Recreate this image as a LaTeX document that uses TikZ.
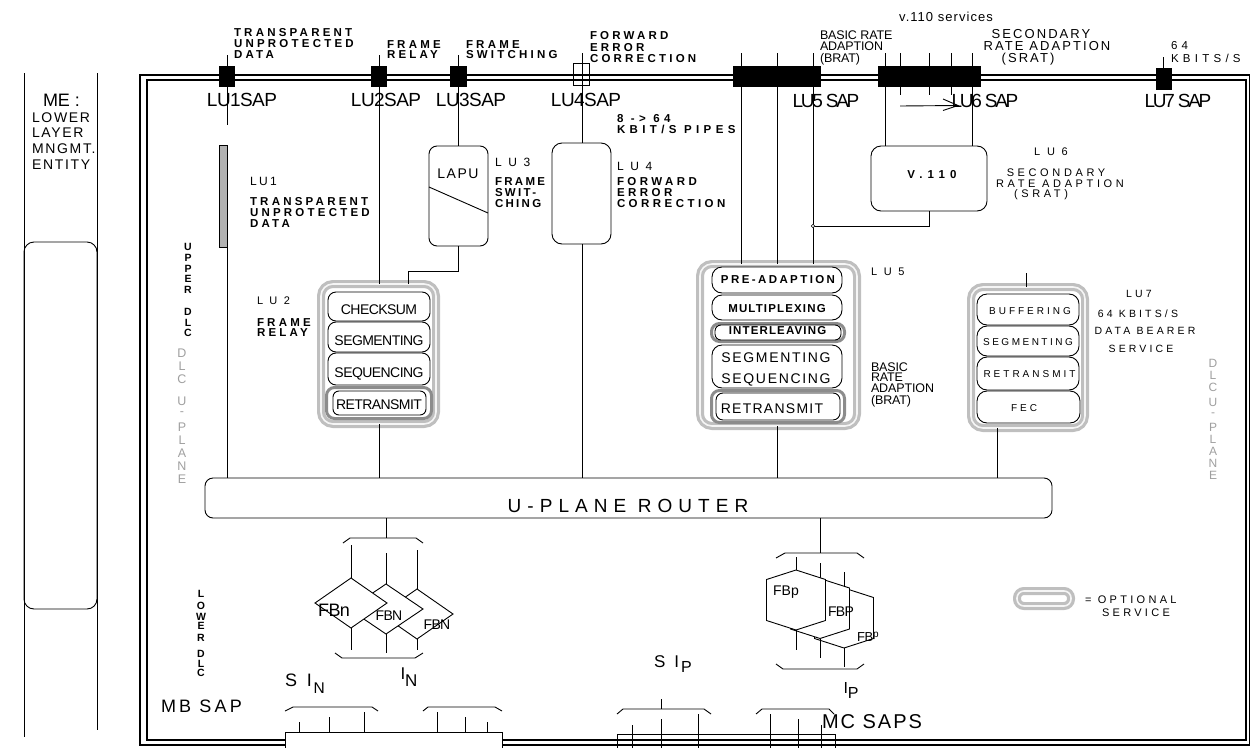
\documentclass[tikz,border=0pt]{standalone}
\usepackage{fontspec}
\setmainfont{Liberation Sans}
\usetikzlibrary{calc}
\newcommand\fsz[2]{\fontsize{#1}{#1}\selectfont\addfontfeature{LetterSpace=#2}}
\newcommand\fszb[2]{\fontsize{#1}{#1}\selectfont\bfseries\addfontfeature{LetterSpace=#2}}
\begin{document}
\begin{tikzpicture}[x=1pt,y=-1pt,
  every node/.append style={inner sep=0pt,outer sep=0pt},
  ln/.style={line width=0.9pt},
  frm/.style={line width=1.1pt},
  box/.style={draw,line width=0.9pt,fill=white,rounded corners=8pt},
  opt/.style={draw=gray!50,double=gray!8,double distance=1.6pt,line width=3.2pt,rounded corners=12pt},
  dopt/.style={draw=gray!90,line width=3pt,fill=white,rounded corners=8pt},
  sapsq/.style={fill=black},
  lbl/.style={anchor=base west},
  clbl/.style={anchor=base},
  fb/.style={font=\fszb{11.5}{28}},
  fr/.style={font=\fsz{11}{33}},
  fsap/.style={font=\fsz{19}{-3}},
  fsapc/.style={font=\fsz{19}{-12}},
  fbx/.style={font=\fsz{14}{-4}},
  fbr/.style={font=\fsz{12.5}{-1}},
  fseven/.style={font=\fsz{10}{30}},
  gl/.style={font=\fsz{12}{0},text=gray!75},
  blt/.style={font=\fszb{10.5}{0}}
]
\useasboundingbox (0,0) rectangle (1250,747);

% ---------- frame ----------
\draw[frm] (140,75) rectangle (1249.5,745);
\draw[frm] (147,80) rectangle (1246,740);

% ---------- ME ----------
\draw[ln] (24,73) -- (24,737);
\draw[ln] (97,73) -- (97,730);
\node[box,fill=none,rounded corners=10pt,minimum width=73,minimum height=367] (meb) at (60.5,425.5) {};

% ---------- boxes ----------
\node[draw,fill=gray!60,line width=0.6pt,minimum width=8,minimum height=102] (bar1) at (223,196) {};
\node[box,minimum width=59,minimum height=100] (lu3) at (458.5,196) {};
\node[box,rounded corners=10pt,minimum width=59,minimum height=101] (lu4) at (581.5,193.5) {};
\node[box,rounded corners=10pt,minimum width=116,minimum height=65] (v110) at (929,178.5) {};

\node[opt,minimum width=115,minimum height=140] (lu2) at (378.5,354) {};
\node[box,minimum width=102,minimum height=29] (chk) at (379,306.5) {};
\node[box,minimum width=102,minimum height=30] (seg2) at (379,337) {};
\node[box,minimum width=102,minimum height=32] (seq2) at (379,369) {};
\node[dopt,minimum width=105,minimum height=31] (ret2o) at (379,403) {};
\node[box,rounded corners=6pt,minimum width=93,minimum height=24] (ret2) at (379.5,403) {};

\node[opt,minimum width=157,minimum height=162] (lu5) at (778.5,345) {};
\node[box,rounded corners=10pt,minimum width=130,minimum height=26] (pre) at (777,280) {};
\node[box,rounded corners=10pt,minimum width=130,minimum height=25] (mux) at (777,307.5) {};
\node[dopt,minimum width=133,minimum height=18] (into) at (778,332.5) {};
\node[box,rounded corners=6pt,minimum width=126,minimum height=15] (intl) at (778,332.5) {};
\node[box,rounded corners=10pt,minimum width=130,minimum height=43] (segseq) at (777,366.5) {};
\node[dopt,minimum width=133,minimum height=32] (ret5o) at (778,406.5) {};
\node[box,rounded corners=7pt,minimum width=124,minimum height=27] (ret5) at (778,406.5) {};

\node[opt,minimum width=114,minimum height=141] (lu7) at (1028,357.5) {};
\node[box,rounded corners=10pt,minimum width=102,minimum height=31] (buf) at (1028,309.5) {};
\node[box,rounded corners=10pt,minimum width=102,minimum height=30] (seg7) at (1028,341) {};
\node[box,rounded corners=10pt,minimum width=102,minimum height=33] (ret7) at (1028,373.5) {};
\node[box,rounded corners=10pt,minimum width=103,minimum height=32] (fec) at (1028.5,407) {};

\node[box,minimum width=847,minimum height=40] (router) at (628.5,498) {};
\node[opt,rounded corners=7pt,minimum width=54,minimum height=15] (legend) at (1044,598.5) {};

% ---------- vertical connectors ----------
\coordinate (c1) at (227,55);
\coordinate (c2) at (379,55);
\coordinate (c3) at (458,55);
\coordinate (c4) at (582,53);
\coordinate (c5a) at (741,53);
\coordinate (c5b) at (777,53);
\coordinate (c5c) at (813,53);
\coordinate (c6a) at (885,53);
\coordinate (c6b) at (900,53);
\coordinate (c6c) at (929,53);
\coordinate (c6d) at (951,53);
\coordinate (c6e) at (972,53);
\coordinate (c7) at (1163,57);

\draw[ln] (c1) -- ++(0,70);
\draw[ln] (bar1.south east) -- (bar1.south east |- router.north);
\draw[ln] (c2) -- (c2 |- lu2.north);
\draw[ln] (c2 |- lu2.south) -- (c2 |- router.north);
\draw[ln] (c3) -- (c3 |- lu3.north);
\coordinate (j3) at (408,271);
\draw[ln] (lu3.south) |- (j3) -- (j3 |- lu2.north);
\draw[ln] ($(lu3.north west)+(0,41)$) -- ($(lu3.north east)+(0,67)$);
\draw[ln] (c4) -- (c4 |- lu4.north);
\draw[ln] (c4 |- lu4.south) -- (c4 |- router.north);
\draw[ln] (c5a) -- (c5a |- lu5.north);
\draw[ln] (c5b) -- (c5b |- lu5.north);
\draw[ln] (c5c) -- (c5c |- lu5.north);
\draw[ln] (c5b |- lu5.south) -- (c5b |- router.north);
\coordinate (j5) at (813,226);
\draw[ln] (v110.south) |- (j5);
\draw[line width=0.6pt,fill=white] (j5) circle[radius=1.8];
\draw[ln] (c6a) -- (c6a |- v110.north);
\draw[ln] (c6e) -- (c6e |- v110.north);
\draw[ln] (c6b) -- ++(0,42);
\draw[ln] (c6c) -- ++(0,42);
\draw[ln] (c6d) -- ++(0,42);
\coordinate (a1) at (900,106);
\coordinate (a2) at (958,105.5);
\draw[ln] (a1) -- (a2);
\draw[ln] ($(a2)+(-15,-6.5)$) -- (a2) -- ($(a2)+(-15,5)$);
\draw[ln] (c7) -- ++(0,12);
\coordinate (c7s) at (1026,273);
\draw[ln] (c7s) -- (c7s |- lu7.north);
\coordinate (c7b) at (997,440);
\draw[ln] (c7b |- lu7.south) -- (c7b |- router.north);

% ---------- SAP squares ----------
\node[sapsq,minimum width=16,minimum height=21] (sap1) at (227,76.5) {};
\node[sapsq,minimum width=16,minimum height=21] (sap2) at (379,76.5) {};
\node[sapsq,minimum width=17,minimum height=21] (sap3) at (458.5,76.5) {};
\node[draw,line width=0.7pt,minimum width=16,minimum height=22] (sap4) at (581,74) {};
\node[sapsq,minimum width=88,minimum height=21] (sap5) at (777,76.5) {};
\node[sapsq,minimum width=103,minimum height=21] (sap6) at (929.5,76.5) {};
\node[sapsq,minimum width=16,minimum height=22] (sap7) at (1164,79) {};

% ---------- N side (diamonds) ----------
\coordinate (bn) at (386,538);
\draw[ln] (router.south -| bn) -- (bn);
\draw[ln] (343,543) -- (350,538) -- (416,538) -- (423,543);
\draw[ln] (351,545) -- (351,578);
\draw[ln] (386,553) -- (386,584);
\draw[ln] (417,550) -- (417,589);
\draw[ln,fill=white] (417,589) -- (453,614) -- (417,639) -- (381,614) -- cycle;
\draw[ln,fill=white] (386,584) -- (423,609) -- (386,634) -- (349,609) -- cycle;
\draw[ln,fill=white] (351,578) -- (387,603) -- (351,628) -- (315,603) -- cycle;
\draw[ln] (351,628) -- (351,650);
\draw[ln] (386,634) -- (386,653);
\draw[ln] (417,639) -- (417,650);
\draw[ln] (335,653) -- (342,658) -- (415,658) -- (423,653);

% ---------- P side (hexagons) ----------
\coordinate (bp) at (820,553);
\draw[ln] (router.south -| bp) -- (bp);
\draw[ln] (776,558) -- (785,553) -- (857,553) -- (864,558);
\draw[ln] (796,557) -- (796,570);
\draw[ln] (820,563) -- (820,578.5);
\draw[ln] (844,572) -- (844,588);
\draw[ln,fill=white] (844,588) -- (873.5,597.5) -- (873.5,638.5) -- (844,648) -- (814.5,638.5) -- (814.5,597.5) -- cycle;
\draw[ln,fill=white] (820,578.5) -- (849.5,588) -- (849.5,629) -- (820,638.5) -- (790.5,629) -- (790.5,588) -- cycle;
\draw[ln,fill=white] (796,570) -- (825.5,579.5) -- (825.5,620.5) -- (796,630) -- (766.5,620.5) -- (766.5,579.5) -- cycle;
\draw[ln] (796,630) -- (796,650);
\draw[ln] (820,638.5) -- (820,658);
\draw[ln] (844,648) -- (844,667);
\draw[ln] (776,664) -- (783,669) -- (857,669) -- (864,664);

% ---------- bottom SAPs ----------
\draw[ln,fill=white] (285,749) -- (285,732) -- (502,732) -- (502,749);
\draw[ln] (299,722) -- (299,732);
\draw[ln] (329,717) -- (329,732);
\draw[ln] (364,712) -- (364,732);
\draw[ln] (437,712) -- (437,732);
\draw[ln] (465,717) -- (465,732);
\draw[ln] (487,722) -- (487,732);
\draw[ln] (285,711) -- (293,707) -- (372,707) -- (378,711);
\draw[ln] (423,711) -- (428,707) -- (495,707) -- (502,711);

\draw[ln] (617,749) -- (617,734) -- (835,734) -- (835,749);
\draw[ln] (632,725) -- (632,749);
\draw[ln] (661,719) -- (661,749);
\draw[ln] (698,714) -- (698,749);
\draw[ln] (770,714) -- (770,749);
\draw[ln] (798,719) -- (798,749);
\draw[ln] (821,725) -- (821,749);
\draw[ln] (661,699) -- (661,709);
\draw[ln] (617,714) -- (623,709) -- (704,709) -- (711,714);
\draw[ln] (756,714) -- (762,709) -- (829,709) -- (834,714);

% ---------- texts: top ----------
\node[lbl,fb] (tt1) at (234,36) {TRANSPARENT};
\node[lbl,fb] (tt2) at (234,47.5) {UNPROTECTED};
\node[lbl,fb] (tt3) at (234,58) {DATA};
\node[lbl,fb] (fr1) at (387,48) {FRAME};
\node[lbl,fb] (fr2) at (387,58) {RELAY};
\node[lbl,fb] (fs1) at (466,48) {FRAME};
\node[lbl,fb] (fs2) at (466,58) {SWITCHING};
\node[lbl,fb] (fe1) at (590,39.5) {FORWARD};
\node[lbl,fb] (fe2) at (590,51) {ERROR};
\node[lbl,fb] (fe3) at (590,62.5) {CORRECTION};
\node[lbl,fbr] (br1) at (820,39) {BASIC RATE};
\node[lbl,fbr] (br2) at (820,50.5) {ADAPTION};
\node[lbl,fbr] (br3) at (820,62.5) {(BRAT)};
\node[clbl,font=\fsz{13}{8}] (v11) at (946,21) {v.110 services};
\node[clbl,font=\fsz{13}{16}] (sr1) at (1041,38.5) {SECONDARY};
\node[clbl,font=\fsz{13}{16}] (sr2) at (1047,50) {RATE ADAPTION};
\node[clbl,font=\fsz{13}{16}] (sr3) at (1028,62) {(SRAT)};
\node[lbl,font=\fsz{11.5}{37}] (k1) at (1171,49) {64};
\node[lbl,font=\fsz{11.5}{37}] (k2) at (1171,62) {KBITS/S};

\node[clbl,fsap] (s1) at (242,106) {LU1SAP};
\node[clbl,fsap] (s2) at (386,106) {LU2SAP};
\node[clbl,fsap] (s3) at (471,106) {LU3SAP};
\node[clbl,fsap] (s4) at (586,106) {LU4SAP};
\node[clbl,fsapc] (s5) at (826,107) {LU5 SAP};
\node[clbl,fsapc] (s6) at (985,107) {LU6 SAP};
\node[clbl,fsapc] (s7) at (1178,107) {LU7 SAP};

\node[lbl,font=\fszb{11.5}{38}] (p1) at (617,122) {8 -> 64};
\node[lbl,font=\fszb{11.5}{38}] (p2) at (617,133) {KBIT/S PIPES};

% ---------- ME texts ----------
\node[lbl,font=\fsz{18}{0}] (me) at (43,106) {ME :};
\node[lbl,font=\fsz{14}{12}] (me1) at (32,122) {LOWER};
\node[lbl,font=\fsz{14}{12}] (me2) at (32,137) {LAYER};
\node[lbl,font=\fsz{14}{12}] (me3) at (32,153) {MNGMT.};
\node[lbl,font=\fsz{14}{12}] (me4) at (32,169) {ENTITY};

% ---------- LU1 ----------
\node[lbl,font=\fsz{12}{20}] (l1) at (250,185) {LU1};
\node[lbl,fb] (l1a) at (250,205) {TRANSPARENT};
\node[lbl,fb] (l1b) at (250,216.5) {UNPROTECTED};
\node[lbl,fb] (l1c) at (250,227) {DATA};

% ---------- LU3 ----------
\node[font=\fsz{14}{11}] (lapu) at (458,174) {LAPU};
\node[lbl,font=\fsz{12}{28}] (l3) at (495,166) {L U 3};
\node[lbl,font=\fszb{11.5}{20}] (l3a) at (495,185) {FRAME};
\node[lbl,font=\fszb{11.5}{20}] (l3b) at (495,196) {SWIT-};
\node[lbl,font=\fszb{11.5}{20}] (l3c) at (495,207) {CHING};

% ---------- LU4 ----------
\node[lbl,font=\fsz{12}{28}] (l4) at (617,170) {L U 4};
\node[lbl,font=\fszb{11.5}{30}] (l4a) at (617,185) {FORWARD};
\node[lbl,font=\fszb{11.5}{30}] (l4b) at (617,196) {ERROR};
\node[lbl,font=\fszb{11.5}{30}] (l4c) at (617,207) {CORRECTION};

% ---------- LU6 ----------
\node[font=\fszb{11.5}{45}] (v110t) at (932,175) {V.110};
\node[clbl,fr] (l6) at (1051,155) {L U 6};
\node[clbl,fr] (l6a) at (1056,176) {SECONDARY};
\node[clbl,fr] (l6b) at (1060,187) {RATE ADAPTION};
\node[clbl,fr] (l6c) at (1041,197) {(SRAT)};

% ---------- LU2 ----------
\node[lbl,font=\fsz{11}{30}] (l2) at (257,304) {L U 2};
\node[lbl,fb] (l2a) at (257,326) {FRAME};
\node[lbl,fb] (l2b) at (257,336) {RELAY};
\node[fbx] (tchk) at (379,310) {CHECKSUM};
\node[fbx] (tseg2) at (379,341) {SEGMENTING};
\node[fbx] (tseq2) at (379,374) {SEQUENCING};
\node[fbx] (tret2) at (379,405) {RETRANSMIT};

% ---------- LU5 ----------
\node[font=\fszb{11.5}{21}] (tpre) at (778,280) {PRE-ADAPTION};
\node[font=\fszb{11.5}{10}] (tmux) at (777,309) {MULTIPLEXING};
\node[font=\fszb{11.5}{10}] (tint) at (777.5,331) {INTERLEAVING};
\node[font=\fsz{14}{12}] (tseg5) at (776,358) {SEGMENTING};
\node[font=\fsz{14}{12}] (tseq5) at (776,380) {SEQUENCING};
\node[font=\fsz{14}{9}] (tret5) at (772,408.5) {RETRANSMIT};
\node[lbl,fr] (l5) at (871,275) {L U 5};
\node[lbl,fbr] (b5a) at (871,371) {BASIC};
\node[lbl,fbr] (b5b) at (871,381.5) {RATE};
\node[lbl,fbr] (b5c) at (871,392.5) {ADAPTION};
\node[lbl,fbr] (b5d) at (871,404.5) {(BRAT)};

% ---------- LU7 ----------
\node[fseven] (tbuf) at (1030,311) {BUFFERING};
\node[font=\fsz{10}{25}] (tseg7) at (1028,342) {SEGMENTING};
\node[fseven] (tret7) at (1029.5,374) {RETRANSMIT};
\node[fseven] (tfec) at (1024,408) {FEC};
\node[clbl,font=\fsz{10.5}{30}] (l7) at (1139,297) {LU7};
\node[clbl,font=\fsz{10.5}{30}] (l7a) at (1138,317) {64 KBITS/S};
\node[clbl,font=\fsz{10.5}{30}] (l7b) at (1145,334) {DATA BEARER};
\node[clbl,font=\fsz{10.5}{30}] (l7c) at (1141,352) {SERVICE};

% ---------- legend ----------
\node[lbl,font=\fsz{11}{30}] (lg1) at (1085,603) {= OPTIONAL};
\node[lbl,font=\fsz{11}{30}] (lg2) at (1102,616) {SERVICE};

% ---------- vertical stacked labels ----------
\foreach \c/\y [count=\i] in {U/247,P/258,P/268.5,E/279,R/289.5,D/312,L/323,C/333}
  \node[blt] (ud\i) at (188,\y) {\c};
\foreach \c/\y [count=\i] in {L/593.5,O/606,W/616.5,E/625.5,R/637.5,D/654,L/663.5,C/672.5}
  \node[blt] (lw\i) at (201,\y) {\c};
\foreach \c/\y [count=\i] in {D/353,L/366,C/379,U/401,-/414,P/427,L/440,A/453,N/466,E/479}
  \node[gl,font=\fsz{12.5}{0}] (gdl\i) at (182,\y) {\c};
\foreach \c/\y [count=\i] in {D/363,L/375,C/387,U/402.5,-/415,P/427,L/439,A/451,N/463,E/475}
  \node[gl] (gdr\i) at (1213,\y) {\c};

% ---------- bottom texts ----------
\node[clbl,font=\fsz{19}{32}] (rt) at (628,512) {U-PLANE ROUTER};
\node[font=\fsz{18}{-4}] (fb1) at (334,610) {FBn};
\node[font=\fsz{14}{-5}] (fb2) at (389,616) {FBN};
\node[font=\fsz{14}{-5}] (fb3) at (437,625) {FBN};
\node[font=\fsz{14}{0}] (fp1) at (786,592) {FBp};
\node[font=\fsz{14}{-5}] (fp2) at (841,612) {FBP};
\node[font=\fsz{13}{-5}] (fp3) at (868,637) {FB\raisebox{4pt}{\fontsize{10}{10}\selectfont p}};
\node[lbl,font=\fsz{18}{0}] (sin) at (285,686) {S\hspace{10pt}I\hspace{1.5pt}\raisebox{-7pt}{\fontsize{15.5}{15.5}\selectfont N}};
\node[lbl,font=\fsz{17}{0}] (inn) at (400.5,679) {I\raisebox{-7pt}{N}};
\node[lbl,font=\fsz{17}{0}] (sip) at (654,667) {S\hspace{9pt}I\hspace{2pt}\raisebox{-5pt}{\fontsize{16}{16}\selectfont P}};
\node[lbl,font=\fsz{16}{0}] (ipp) at (843.5,693) {I\raisebox{-5pt}{P}};
\node[lbl,font=\fsz{18}{18}] (mb) at (161,712) {MB SAP};
\node[clbl,font=\fsz{20}{10}] (mc) at (872,728) {MC SAPS};
\end{tikzpicture}
\end{document}
